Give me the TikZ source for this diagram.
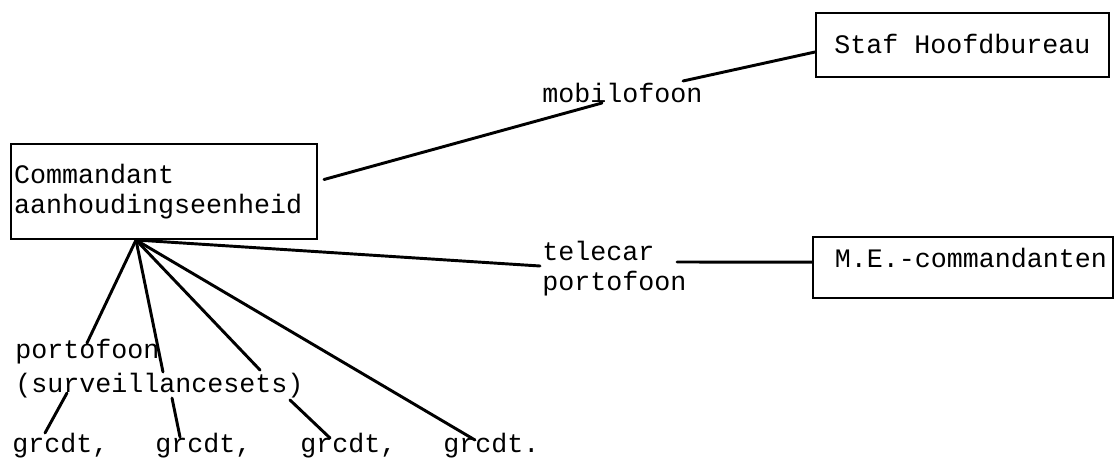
\documentclass[tikz,border=0pt]{standalone}
\usepackage{fontspec}
\setmainfont{Liberation Mono}
\usetikzlibrary{calc}
\begin{document}
\begin{tikzpicture}[x=0.75pt,y=-0.75pt,
  box/.style={draw, line width=1.5pt, inner sep=0pt},
  lbl/.style={inner sep=0pt, font=\fontsize{20}{22.5}\selectfont},
  wire/.style={line width=2.2pt, line cap=round}]
\fill[white] (0,0) rectangle (1114,461);
\useasboundingbox (0,0) rectangle (1114,461);

% boxes
\node[box, lbl, anchor=north west, minimum width=229.5pt, minimum height=71.25pt,
      text width=225pt, align=left] (cmd) at (10,143) {Commandant\\aanhoudingseenheid};
\node[box, lbl, minimum width=219.75pt, minimum height=48pt,
      text height=12pt, text depth=0pt] (staf) at (962.5,45) {Staf Hoofdbureau};
\node[box, lbl, minimum height=45.75pt, inner xsep=4.5pt, text width=216pt, align=right,
      text height=12pt, text depth=12pt] (me) at (963,267.5) {M.E.-commandanten};

% labels (base anchor of a multi-line node = last line)
\node[lbl, anchor=base west] (mob) at (542,102) {mobilofoon};
\node[lbl, anchor=base west, align=left] (tel) at (542,290) {telecar\\portofoon};
\node[lbl, anchor=base west, align=left] (pt) at (15,392) {portofoon\\[3pt](surveillancesets)};
\node[lbl, anchor=base west] (g1) at (12,452) {grcdt,};
\node[lbl, anchor=base west] (g2) at (155,452) {grcdt,};
\node[lbl, anchor=base west] (g3) at (300,452) {grcdt,};
\node[lbl, anchor=base west] (g4) at (443,452) {grcdt.};

\coordinate (hub) at ($(cmd.south)+(-28,0)$);

% mobilofoon link
\draw[wire] ([xshift=4.5pt,yshift=9pt]cmd.east) -- ($(mob.base west)+(60,1)$);
\draw[wire] ($(mob.base west)+(141,-21)$) -- ([yshift=-5.25pt]staf.west);

% telecar link
\draw[wire] (hub) -- ($(tel.base west)+(-2,-24)$);
\draw[wire] ($(tel.base west)+(135,-28)$) -- ([yshift=4pt]me.west);

% fan from hub
\draw[wire] (hub) -- ($(pt.base west)+(72,-49)$);
\draw[wire] (hub) -- ($(pt.base west)+(148,-20)$);
\draw[wire] (hub) -- ($(pt.base west)+(245,-22)$);
\draw[wire] (hub) -- ($(g4.base west)+(32,-12)$);

% to groups
\draw[wire] ($(pt.base west)+(52,1)$) -- ($(g1.base west)+(33,-19)$);
\draw[wire] ($(pt.base west)+(157,6)$) -- ($(g2.base west)+(25,-15)$);
\draw[wire] ($(pt.base west)+(275,8)$) -- ($(g3.base west)+(30,-14)$);
\end{tikzpicture}
\end{document}
